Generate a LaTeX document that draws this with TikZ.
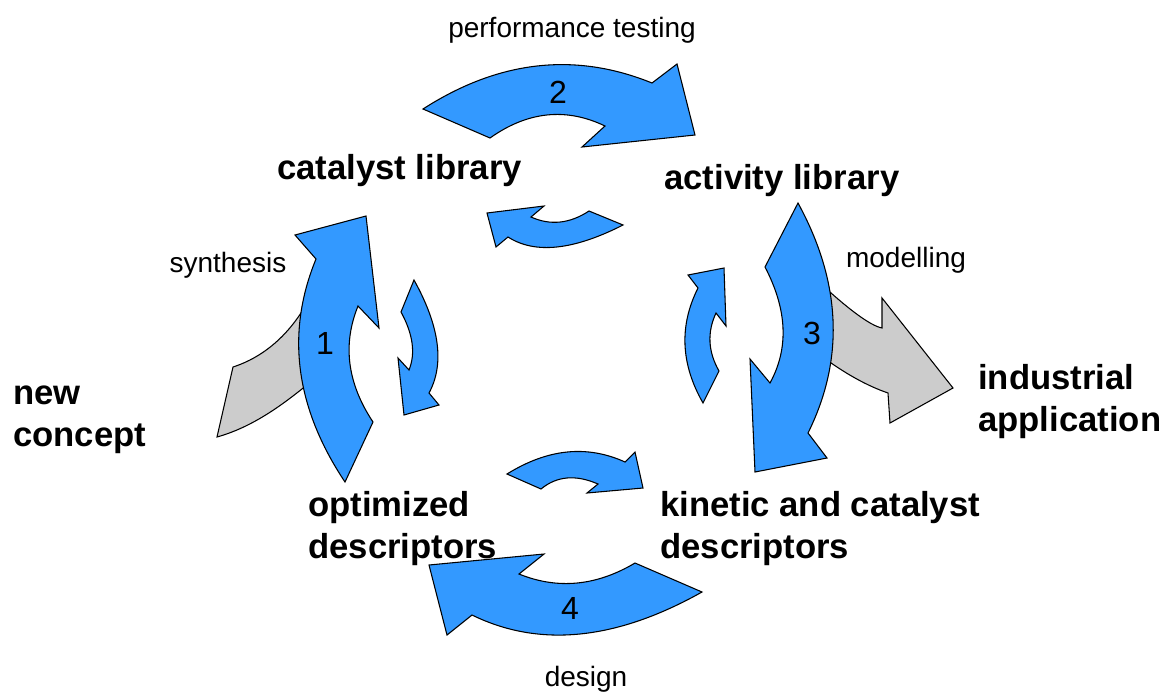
\documentclass[tikz,border=0pt]{standalone}
\usepackage{fontspec}
\setmainfont{Liberation Sans}
\usepackage{tikz}
\usetikzlibrary{positioning,calc}
\definecolor{cycleblue}{HTML}{3399FF}
\definecolor{sidegrey}{HTML}{CCCCCC}
\tikzset{
  shaft/.style={draw=black, line width=0.8pt, fill=#1, line join=miter},
  stagelbl/.style={font=\fontsize{26}{31.5}\selectfont\bfseries, align=left,
                   anchor=base west, inner sep=0pt},
  actlbl/.style={font=\fontsize{21}{25}\selectfont, anchor=base, inner sep=0pt},
  num/.style={font=\fontsize{24}{28}\selectfont, inner sep=0pt},
}

\begin{document}
\begin{tikzpicture}[x=0.75pt, y=-0.75pt]
\useasboundingbox (0,0) rectangle (1166,693);

% ---------- side arrows (behind the cycle) ------------------------------
\draw[shaft=sidegrey] (217,437) -- (233,367) .. controls (270,355) and (300,325) .. (318,280)
   -- (325,370) .. controls (295,395) and (260,425) .. cycle;
\draw[shaft=sidegrey] (820,283) .. controls (850,310.7) and (870.7,325.7) .. (882,328)
   -- (882,298) -- (953,388) -- (890,423) -- (888,393)
   .. controls (866.7,385.7) and (844,373) .. (820,355) -- cycle;

% ---------- the outer cycle ---------------------------------------------
% 1: synthesis, up to the catalyst library
\draw[shaft=cycleblue] (295,235) -- (366,216) -- (379,328) -- (358,306)
   .. controls (342.3,344.7) and (347.3,383.3) .. (373,422) -- (345,482)
   .. controls (295,407) and (285.7,332.7) .. (316,259) -- cycle;
% 2: performance testing
\draw[shaft=cycleblue] (423,109) .. controls (498.7,60.3) and (575,51.7) .. (652,83)
   -- (677,64) -- (695,135) -- (582,147) -- (605,126)
   .. controls (566,107.3) and (527.7,111.3) .. (490,138) -- cycle;
% 3: modelling
\draw[shaft=cycleblue] (798,203) .. controls (841.3,282.3) and (844.7,359) .. (808,433)
   -- (827,458) -- (755,472) -- (750,359) -- (770,383)
   .. controls (789,348.3) and (787.3,309.7) .. (765,267) -- cycle;
% 4: design
\draw[shaft=cycleblue] (702,592) -- (635,563) .. controls (596.3,586) and (557.7,589.7) .. (519,574)
   -- (544,554) -- (429,565) -- (447,635) -- (472,615)
   .. controls (539.3,648) and (616,640.3) .. cycle;

% ---------- the inner, reverse cycle ------------------------------------
\draw[shaft=cycleblue] (414,280) .. controls (439.7,326.3) and (444.7,364) .. (429,393)
   -- (439,405) -- (404,415) -- (398,358) -- (409,370)
   .. controls (415.7,353.3) and (413,334) .. (401,312) -- cycle;
\draw[shaft=cycleblue] (688,275) -- (724,268) -- (726,326) -- (716,313)
   .. controls (707,332.3) and (708,351.7) .. (719,371) -- (703,403)
   .. controls (680.7,364) and (679,325.7) .. (698,288) -- cycle;
\draw[shaft=cycleblue] (507,474) -- (541,489) .. controls (556.7,476) and (575.7,474.3) .. (598,484)
   -- (587,493) -- (643,488) -- (635,452) -- (625,462)
   .. controls (587,444.7) and (547.7,448.7) .. cycle;
\draw[shaft=cycleblue] (623,225) -- (589,211) .. controls (569.7,223.7) and (550.3,225.7) .. (531,217)
   -- (544,206) -- (487,213) -- (496,247) -- (508,237)
   .. controls (535,254.3) and (573.3,250.3) .. cycle;

% ---------- numbers -----------------------------------------------------
\node[num] (n1) at (325,343) {1};
\node[num] (n2) at (558,92) {2};
\node[num] (n3) at (812,333) {3};
\node[num] (n4) at (570,608) {4};

% ---------- stages (base = last line) -----------------------------------
\node[stagelbl] (catlib) at (277,179) {catalyst library};
\node[stagelbl] (actlib) at (664,189) {activity library};
\node[stagelbl] (newc) at (13,446) {new\\concept};
\node[stagelbl] (indapp) at (978,431) {industrial\\application};
\node[stagelbl] (optdesc) at (308,558) {optimized\\descriptors};
\node[stagelbl] (kindesc) at (660,558) {kinetic and catalyst\\descriptors};

% ---------- activities --------------------------------------------------
\node[actlbl] (perf) at (572,37) {performance testing};
\node[actlbl] (synth) at (228,272) {synthesis};
\node[actlbl] (model) at (906,267) {modelling};
\node[actlbl] (design) at (586,686) {design};
\end{tikzpicture}
\end{document}
